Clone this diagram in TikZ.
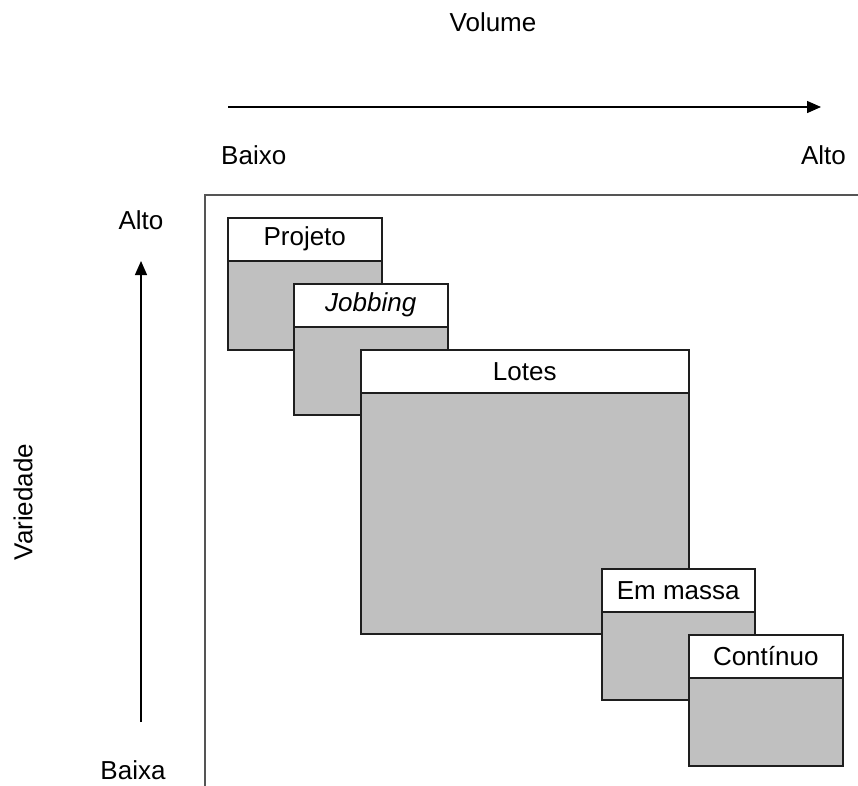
\documentclass[tikz,border=0pt]{standalone}
\usepackage{fontspec}
\setmainfont{Liberation Sans}
\usetikzlibrary{arrows.meta}

\definecolor{boxgray}{HTML}{C0C0C0}
\definecolor{edgec}{HTML}{1E1E1E}
\definecolor{framec}{HTML}{555555}

\tikzset{
  lbl/.style={font=\fontsize{26}{30}\selectfont, text=black, inner sep=0pt},
  boxbody/.style={draw=edgec, fill=boxgray, line width=1.5pt, inner sep=0pt,
    anchor=north west, minimum width=#1},
  boxhead/.style={draw=edgec, fill=white, line width=1.5pt, inner sep=0pt,
    anchor=north west, minimum width=#1, minimum height=43pt,
    font=\fontsize{26}{30}\selectfont},
  axis/.style={line width=1.4pt, draw=black, -{Triangle[length=14pt,width=12pt]}},
}

% one process box: gray body with a white title strip on top
% #1 name, #2 left, #3 top, #4 width, #5 total height, #6 title
\newcommand\procbox[6]{%
  \node[boxbody=#4pt, minimum height=#5pt] (#1-body) at (#2,#3) {};
  \node[boxhead=#4pt] (#1) at (#2,#3) {#6};
}

\begin{document}
\begin{tikzpicture}[x=1pt,y=-1pt]
\useasboundingbox (0,0) rectangle (858,785);

% axis titles
\node[lbl] (volume) at (493,22) {Volume};
\node[lbl, rotate=90] (variedade) at (23,502) {Variedade};

% horizontal axis
\coordinate (hstart) at (228,107);
\coordinate (hend) at (821,107);
\draw[axis] (hstart) -- (hend);
\node[lbl, anchor=west] (baixo) at (221,155) {Baixo};
\node[lbl, anchor=east] (altoh) at (846,155) {Alto};

% vertical axis
\coordinate (vstart) at (141,722);
\coordinate (vend) at (141,261);
\draw[axis] (vstart) -- (vend);
\node[lbl] (altov) at (141,220) {Alto};
\node[lbl] (baixa) at (133,770) {Baixa};

% frame of the chart area
\draw[draw=framec, line width=2pt] (205,790) -- (205,195) -- (865,195);

% process types
\procbox{projeto}{227}{217}{154}{132}{Projeto}
\procbox{jobbing}{293}{283}{154}{131}{\itshape Jobbing}
\procbox{lotes}{360}{349}{328}{284}{Lotes}
\procbox{massa}{601}{568}{153}{131}{Em massa}
\procbox{continuo}{688}{634}{154}{131}{Contínuo}
\end{tikzpicture}
\end{document}
